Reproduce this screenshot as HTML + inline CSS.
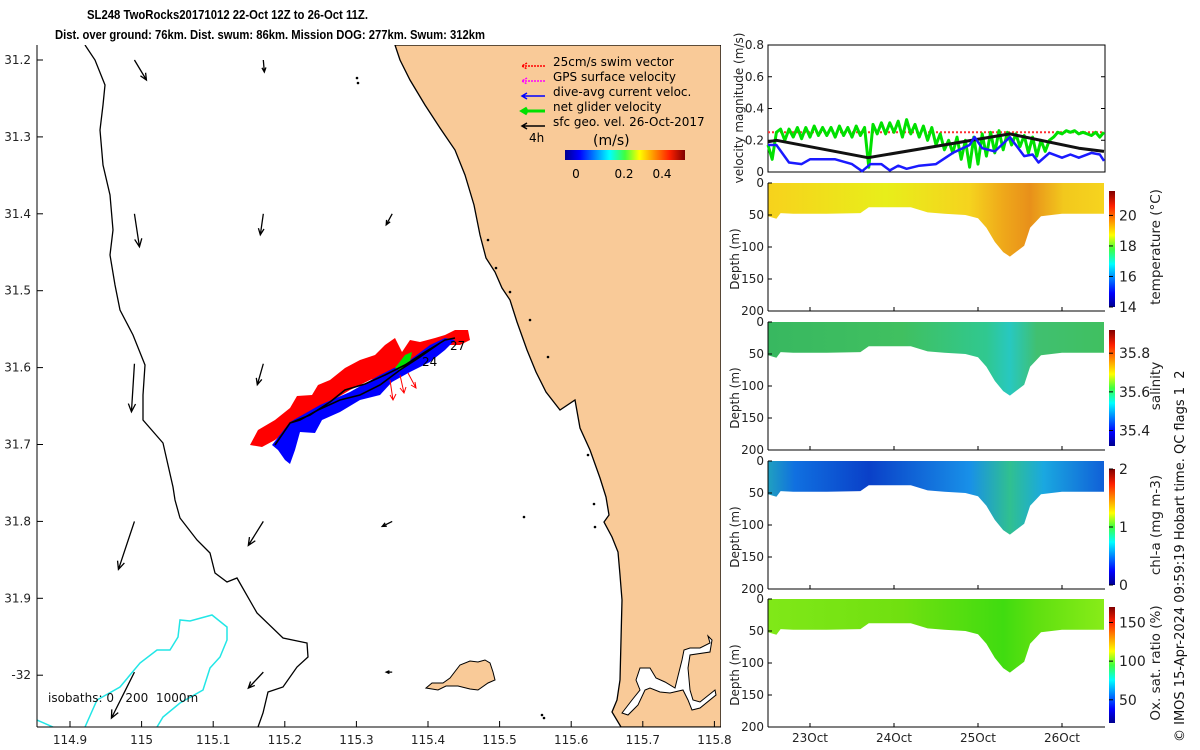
<!DOCTYPE html>
<html><head><meta charset="utf-8">
<style>
html,body{margin:0;padding:0;background:#fff;}
svg{display:block;font-family:"DejaVu Sans","Liberation Sans",sans-serif;}
text{white-space:pre;}
</style></head>
<body>
<svg id="fig" width="1200" height="750" viewBox="0 0 1200 750" xmlns="http://www.w3.org/2000/svg">
<defs>
<linearGradient id="jetH" x1="0" x2="1" y1="0" y2="0">
<stop offset="0" stop-color="#00008f"/><stop offset="0.12" stop-color="#0000ff"/><stop offset="0.37" stop-color="#00ffff"/><stop offset="0.5" stop-color="#40ff40"/><stop offset="0.62" stop-color="#ffff00"/><stop offset="0.87" stop-color="#ff2000"/><stop offset="1" stop-color="#800000"/>
</linearGradient>
<linearGradient id="jetV" x1="0" x2="0" y1="1" y2="0">
<stop offset="0" stop-color="#00008f"/><stop offset="0.12" stop-color="#0000ff"/><stop offset="0.37" stop-color="#00ffff"/><stop offset="0.5" stop-color="#40ff40"/><stop offset="0.62" stop-color="#ffff00"/><stop offset="0.87" stop-color="#ff2000"/><stop offset="1" stop-color="#800000"/>
</linearGradient>
<linearGradient id="gTemp" x1="0" x2="1"><stop offset="0" stop-color="#f7d21c"/><stop offset="0.35" stop-color="#e8ee1a"/><stop offset="0.6" stop-color="#f5d31e"/><stop offset="0.7" stop-color="#efa81a"/><stop offset="0.78" stop-color="#e8901a"/><stop offset="0.88" stop-color="#f2c81d"/><stop offset="1" stop-color="#f6d41e"/></linearGradient>
<linearGradient id="gSal" x1="0" x2="1"><stop offset="0" stop-color="#38b860"/><stop offset="0.4" stop-color="#40c060"/><stop offset="0.65" stop-color="#30c890"/><stop offset="0.72" stop-color="#28c8c0"/><stop offset="0.8" stop-color="#40c070"/><stop offset="1" stop-color="#40c060"/></linearGradient>
<linearGradient id="gChl" x1="0" x2="1"><stop offset="0" stop-color="#20a0c0"/><stop offset="0.08" stop-color="#1070e0"/><stop offset="0.3" stop-color="#0a40c8"/><stop offset="0.6" stop-color="#1890e8"/><stop offset="0.72" stop-color="#30c090"/><stop offset="0.82" stop-color="#1aa8e0"/><stop offset="1" stop-color="#1060d8"/></linearGradient>
<linearGradient id="gOx" x1="0" x2="1"><stop offset="0" stop-color="#80e818"/><stop offset="0.4" stop-color="#70e010"/><stop offset="0.7" stop-color="#40dc10"/><stop offset="0.8" stop-color="#60e010"/><stop offset="1" stop-color="#88ec18"/></linearGradient>
</defs>

<text x="87" y="19" textLength="281" lengthAdjust="spacingAndGlyphs" font-family="Liberation Sans, sans-serif" font-size="12.5" font-weight="bold">SL248 TwoRocks20171012 22-Oct 12Z to 26-Oct 11Z.</text>
<text x="55" y="39" textLength="430" lengthAdjust="spacingAndGlyphs" font-family="Liberation Sans, sans-serif" font-size="12.5" font-weight="bold">Dist. over ground: 76km. Dist. swum: 86km. Mission DOG: 277km. Swum: 312km</text>

<g>
<clipPath id="mapclip"><rect x="37" y="45" width="684" height="682"/></clipPath>
<g clip-path="url(#mapclip)">
<path fill="#f9ca98" stroke="#000" stroke-width="1.3" d="M395,45 L400,60 L410,80 L425,105 L440,128 L455,150 L465,175 L474,205 L480,235 L486,258 L495,272 L502,288 L510,300 L517,322 L527,350 L536,372 L546,392 L560,410 L575,400 L580,428 L590,450 L600,478 L606,497 L609,515 L604,522 L612,537 L618,552 L620,575 L622,600 L621,640 L620,680 L617,700 L612,712 L621,727 L721,727 L721,45 Z"/>
<path fill="#fff" stroke="#000" stroke-width="1" d="M622,713 L632,700 L640,690 L636,680 L640,668 L650,668 L656,678 L665,682 L675,688 L682,660 L684,650 L690,648 L700,648 L710,643 L708,636 L712,640 L710,652 L690,655 L688,668 L690,690 L693,700 L700,702 L715,690 L716,695 L700,708 L692,710 L688,700 L683,690 L670,693 L660,692 L650,688 L645,690 L638,705 L628,715 Z"/>
<path fill="#f9ca98" stroke="#000" stroke-width="1" d="M426,688 L432,683 L443,683 L450,678 L460,665 L470,661 L478,662 L485,660 L490,663 L493,672 L495,680 L488,683 L478,690 L470,689 L458,686 L446,686 L438,690 Z"/>
<path fill="none" stroke="#000" stroke-width="1.3" d="M85,45 L95,60 L105,85 L103,105 L100,130 L103,165 L110,195 L113,230 L110,255 L115,285 L120,310 L133,335 L145,365 L143,395 L143,420 L163,443 L173,487 L175,500 L180,518 L197,540 L210,553 L215,573 L227,582 L237,578 L257,613 L283,638 L307,643 L308,657 L297,667 L283,687 L268,692 L263,713 L258,727"/>
<path fill="none" stroke="#22e6e6" stroke-width="1.5" d="M37,720 L53,727"/>
<path fill="none" stroke="#22e6e6" stroke-width="1.5" d="M85,727 L97,700 L120,687 L140,663 L157,650 L170,650 L178,637 L180,620 L190,621 L212,615 L227,627 L227,640 L220,657 L210,668 L203,690 L180,703 L163,717 L157,727"/>
<path fill="#ff0000" d="M250,445 L258,430 L275,420 L290,408 L297,396 L312,395 L318,385 L330,380 L345,368 L360,360 L375,355 L385,345 L395,338 L402,352 L410,340 L420,342 L435,338 L445,335 L455,330 L468,330 L470,340 L460,345 L448,345 L430,352 L420,360 L400,365 L385,375 L370,380 L350,390 L330,402 L310,414 L290,428 L275,440 L262,447 Z"/>
<path fill="#0000ff" d="M272,445 L290,422 L320,405 L350,392 L380,375 L410,360 L430,345 L445,338 L455,340 L445,350 L430,362 L410,372 L392,382 L380,395 L360,400 L340,412 L322,420 L315,433 L300,432 L295,450 L290,464 L285,460 L278,450 Z"/>
<path fill="#00e000" d="M395,368 L405,355 L412,352 L410,362 L400,370 Z"/>
<path fill="none" stroke="#000" stroke-width="1.6" d="M275,445 L290,423 L310,415 L330,402 L345,390 L365,384 L385,375 L405,365 L425,352 L445,340 L455,338 M290,423 L300,420 L318,410 L340,400 L360,395 L380,385 L400,370 L420,357 L440,343"/>
<g stroke="#ff0000" stroke-width="1" fill="none">
<path d="M390,380 L393,400 M390,395 L393,400 L396,394"/><path d="M400,375 L404,393 M400,388 L404,393 L406,387"/><path d="M408,373 L416,388 M411,385 L416,388 L415,382"/><path d="M362,370 L365,378"/>
</g>
<text x="450" y="350" font-size="12">27</text>
<text x="422" y="366" font-size="12">24</text>
<g id="geoArrows" stroke="#000" stroke-width="1.3" fill="none"></g>
<g fill="#000">
<circle cx="357" cy="78" r="1.3"/><circle cx="358" cy="83" r="1.3"/><circle cx="488" cy="240" r="1.3"/><circle cx="496" cy="268" r="1.3"/><circle cx="510" cy="292" r="1.3"/><circle cx="530" cy="320" r="1.3"/><circle cx="548" cy="357" r="1.3"/><circle cx="588" cy="455" r="1.3"/><circle cx="594" cy="504" r="1.3"/><circle cx="595" cy="527" r="1.3"/><circle cx="524" cy="517" r="1.3"/><circle cx="542" cy="715" r="1.3"/><circle cx="544" cy="718" r="1.3"/>
</g>
</g>
<line x1="37" y1="45" x2="37" y2="727" stroke="#000" stroke-width="1"/>
<line x1="37" y1="727" x2="721" y2="727" stroke="#000" stroke-width="1"/>
<g id="mapTicks" font-size="12" fill="#222"></g>
<text x="48" y="702" font-size="12" fill="#111">isobaths: 0   200  1000m</text>
<g font-size="12" fill="#000">
<g stroke-width="1.5" fill="none">
<path d="M522,66 L545,66 M527,63 L522,66 L527,69" stroke="#ff0000" stroke-dasharray="2 1"/>
<path d="M522,81 L545,81 M527,78 L522,81 L527,84" stroke="#ff00ff" stroke-dasharray="2 1"/>
<path d="M522,96 L545,96 M527,93 L522,96 L527,99" stroke="#0000ff"/>
<path d="M522,111 L545,111 M527,108 L522,111 L527,114" stroke="#00e000" stroke-width="3"/>
<path d="M522,126 L545,126 M527,123 L522,126 L527,129" stroke="#000"/>
</g>
<text x="553" y="66">25cm/s swim vector</text>
<text x="553" y="81">GPS surface velocity</text>
<text x="553" y="96">dive-avg current veloc.</text>
<text x="553" y="111">net glider velocity</text>
<text x="553" y="126">sfc geo. vel. 26-Oct-2017</text>
<text x="529" y="142">4h</text>
<text x="593" y="145" font-size="14">(m/s)</text>
<rect x="565" y="150" width="120" height="10" fill="url(#jetH)"/>
<text x="576" y="178" text-anchor="middle">0</text>
<text x="624" y="178" text-anchor="middle">0.2</text>
<text x="662" y="178" text-anchor="middle">0.4</text>
</g>
</g>

<g id="velPanel"></g>
<g id="depthPanels"></g>
<text transform="translate(1184,742) rotate(-90)" font-size="13" fill="#111">© IMOS 15-Apr-2024 09:59:19 Hobart time. QC flags 1  2</text>
</svg>
<script>
const lonTicks = [114.9, 115, 115.1, 115.2, 115.3, 115.4, 115.5, 115.6, 115.7, 115.8];
const latTicks = [31.2, 31.3, 31.4, 31.5, 31.6, 31.7, 31.8, 31.9, 32];
const latLabels = ["31.2","31.3","31.4","31.5","31.6","31.7","31.8","31.9","-32"];
const geoLon = [114.99,114.99,114.99,114.99,114.99,115.17,115.17,115.17,115.17,115.17,115.35,115.35,115.35];
const geoLat = [31.2,31.4,31.595,31.8,31.996,31.2,31.4,31.595,31.8,31.996,31.4,31.8,31.996];
const geoU = [12,5,-3,-16,-23,1,-3,-6,-15,-15,-6,-10,-6];
const geoV = [20,33,48,48,46,12,21,21,24,16,11,5,0];

const greenT = [];
for (let i=0;i<81;i++) greenT.push(22.5+i*0.05);
const greenV = [.17,.08,.25,.27,.20,.27,.22,.28,.21,.28,.22,.29,.23,.28,.23,.28,.22,.29,.23,.28,.22,.29,.23,.28,.03,.30,.24,.31,.24,.31,.25,.32,.22,.33,.24,.30,.22,.29,.20,.28,.17,.24,.14,.20,.12,.22,.08,.20,.03,.22,.05,.24,.10,.25,.12,.26,.14,.25,.17,.24,.16,.23,.12,.22,.10,.20,.13,.20,.22,.25,.24,.26,.25,.26,.24,.25,.24,.23,.25,.22,.25];
const blueT = [22.5,22.6,22.75,22.9,23.0,23.3,23.5,23.62,23.72,23.85,23.95,24.05,24.15,24.3,24.5,24.7,24.9,24.96,25.05,25.2,25.38,25.55,25.65,25.72,25.85,26.0,26.1,26.2,26.35,26.45,26.5];
const blueV = [.17,.17,.06,.05,.08,.08,.05,.005,.05,.05,.01,.04,.02,.04,.05,.12,.17,.22,.15,.13,.22,.10,.11,.06,.12,.09,.11,.09,.12,.11,.07];
const blackT = [22.5,22.6,23.69,25.38,26.2,26.5];
const blackV = [.19,.20,.09,.24,.15,.13];
const redT = [22.5,26.5];
const redV = [.25,.25];
const velTicks = [0,0.2,0.4,0.6,0.8];
const dayTicks = [23,24,25,26];
const dayLabels = ["23Oct","24Oct","25Oct","26Oct"];
const sectT = [22.5,22.6,22.65,22.8,23.2,23.6,23.7,24.2,24.4,24.6,24.85,25.0,25.1,25.2,25.3,25.38,25.45,25.55,25.62,25.75,26.0,26.5];
const sectD = [52,56,47,48,48,47,38,38,46,48,50,55,70,92,108,115,108,98,70,52,48,48];
const depthTicks = [0,50,100,150,200];
const cbTempTicks = [14,16,18,20]; const cbTempRange=[14,21.6];
const cbSalTicks = [35.4,35.6,35.8]; const cbSalRange=[35.32,35.92];
const cbChlTicks = [0,1,2]; const cbChlRange=[0,2];
const cbOxTicks = [50,100,150]; const cbOxRange=[20,170];

const NS="http://www.w3.org/2000/svg";
function mk(tag, attrs, parent, text){const e=document.createElementNS(NS,tag);for(const k in attrs)e.setAttribute(k,attrs[k]);if(text!==undefined)e.textContent=text;parent.appendChild(e);return e;}

const lonX = v => 70 + (v-114.9)*716;
const latY = v => 60 + (v-31.2)*769;
const mt=document.getElementById('mapTicks');
lonTicks.forEach(v=>{const x=lonX(v);
 mk('line',{x1:x,y1:727,x2:x,y2:721,stroke:'#000'},mt);
 const t=mk('text',{x:x,y:744,'text-anchor':'middle'},mt,String(v));
 
 
});
latTicks.forEach((v,i)=>{const y=latY(v);
 mk('line',{x1:37,y1:y,x2:43,y2:y,stroke:'#000'},mt);
 const t=mk('text',{x:31,y:y+4,'text-anchor':'end'},mt,latLabels[i]);
 
 
});
const ga=document.getElementById('geoArrows');
geoLon.forEach((lo,i)=>{const x0=lonX(lo),y0=latY(geoLat[i]);const x1=x0+geoU[i],y1=y0+geoV[i];
 const L=Math.hypot(geoU[i],geoV[i])||1;const ux=geoU[i]/L,uy=geoV[i]/L;const h=Math.min(8,2+L*0.2);
 const p=mk('path',{d:`M${x0},${y0} L${x1},${y1} M${x1-h*ux-h*0.45*uy},${y1-h*uy+h*0.45*ux} L${x1},${y1} L${x1-h*ux+h*0.45*uy},${y1-h*uy-h*0.45*ux}`},ga);
 
 
});

const X0=768,X1=1105;
const tx = t => 810 + (t-23)*84;
const vp=document.getElementById('velPanel');
const vy = v => 172 - v/0.8*127;
mk('rect',{x:X0,y:45,width:X1-X0,height:127,fill:'#fff',stroke:'#000','stroke-width':1},vp);
velTicks.forEach(v=>{const y=vy(v);mk('line',{x1:X0,y1:y,x2:X0+4,y2:y,stroke:'#000'},vp);mk('line',{x1:X1,y1:y,x2:X1-4,y2:y,stroke:'#000'},vp);
 const t=mk('text',{x:764,y:y+4,'text-anchor':'end','font-size':12,fill:'#222'},vp,String(v));
 
 });
function line(T,V,attrs,name){const d=T.map((t,i)=>(i?'L':'M')+tx(t).toFixed(1)+','+vy(V[i]).toFixed(1)).join(' ');
 const p=mk('path',Object.assign({d:d,fill:'none','stroke-linejoin':'round'},attrs),vp);
 
 }
line(redT,redV,{stroke:'#ff3030','stroke-width':2,'stroke-dasharray':'2 2'},'swim-speed-line');
line(greenT,greenV,{stroke:'#00e000','stroke-width':3},'glider-speed-line');
line(blackT,blackV,{stroke:'#111','stroke-width':3},'geo-speed-line');
line(blueT,blueV,{stroke:'#1a1aff','stroke-width':2.5},'current-speed-line');
const vl=mk('text',{transform:'translate(743,108) rotate(-90)','text-anchor':'middle','font-size':12,fill:'#222'},vp,'velocity magnitude (m/s)');



const dp=document.getElementById('depthPanels');
const panels=[
 {top:183,fill:'url(#gTemp)',ticks:cbTempTicks,range:cbTempRange,label:'temperature (°C)',name:'temperature'},
 {top:322,fill:'url(#gSal)',ticks:cbSalTicks,range:cbSalRange,label:'salinity',name:'salinity'},
 {top:461,fill:'url(#gChl)',ticks:cbChlTicks,range:cbChlRange,label:'chl-a (mg m-3)',name:'chlorophyll'},
 {top:599,fill:'url(#gOx)',ticks:cbOxTicks,range:cbOxRange,label:'Ox. sat. ratio (%)',name:'oxygen'}];
panels.forEach((P,pi)=>{
 const H=128, dy=d=>P.top+d/200*H;
 const g=mk('g',{},dp);
 
 
 let d=`M${tx(sectT[0])},${dy(0)} `;
 sectT.forEach((t,i)=>{d+=`L${tx(t).toFixed(1)},${dy(sectD[i]).toFixed(1)} `;});
 d+=`L${tx(sectT[sectT.length-1])},${dy(0)} Z`;
 const sf=mk('path',{d:d,fill:P.fill},g);
 
 
 mk('line',{x1:X0,y1:P.top,x2:X0,y2:P.top+H,stroke:'#000'},g);
 mk('line',{x1:X0,y1:P.top+H,x2:X1,y2:P.top+H,stroke:'#000'},g);
 depthTicks.forEach(v=>{const y=dy(v);mk('line',{x1:X0,y1:y,x2:X0+4,y2:y,stroke:'#000'},g);
  const t=mk('text',{x:764,y:y+4,'text-anchor':'end','font-size':12,fill:'#222'},g,String(v));
  
  });
 dayTicks.forEach(v=>{mk('line',{x1:tx(v),y1:P.top+H,x2:tx(v),y2:P.top+H-4,stroke:'#000'},g);});
 const yl=mk('text',{transform:`translate(739,${P.top+H/2+12}) rotate(-90)`,'text-anchor':'middle','font-size':12,fill:'#222'},g,'Depth (m)');
 
 
 const cbTop=P.top+8, cbH=H-12;
 const cb=mk('rect',{x:1109,y:cbTop,width:6,height:cbH,fill:'url(#jetV)'},g);
 
 
 const cy=v=>cbTop+cbH-(v-P.range[0])/(P.range[1]-P.range[0])*cbH;
 P.ticks.forEach(v=>{const y=cy(v);mk('line',{x1:1109,y1:y,x2:1113,y2:y,stroke:'#000'},g);
  const t=mk('text',{x:1119,y:y+5,'font-size':14,fill:'#222'},g,String(v));
  
  });
 const cl=mk('text',{transform:`translate(1160,${P.top+H/2}) rotate(-90)`,'text-anchor':'middle','font-size':13.5,fill:'#222'},g,P.label);
 
 
});
dayTicks.forEach((v,i)=>{const t=mk('text',{x:tx(v),y:742,'text-anchor':'middle','font-size':12,fill:'#222'},dp,dayLabels[i]);
 
 });
</script>
</body></html>
